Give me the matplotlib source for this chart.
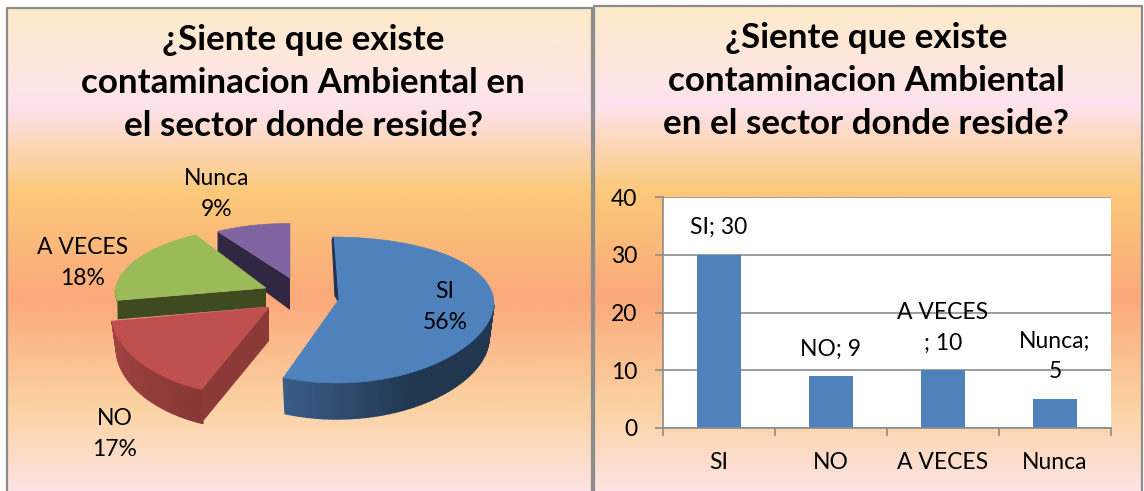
import numpy
import matplotlib
matplotlib.use("Agg")
from matplotlib import pyplot
from matplotlib.colors import LinearSegmentedColormap, to_rgb
from matplotlib.patches import Polygon

categories = ["SI", "NO", "A VECES", "Nunca"]
counts = [30, 9, 10, 5]
percent_labels = ["56%", "17%", "18%", "9%"]
bar_labels = ["SI; 30", "NO; 9", "A VECES\n; 10", "Nunca;\n5"]
y_ticks = [0, 10, 20, 30, 40]
title_left = "¿Siente que existe\ncontaminacion Ambiental en\nel sector donde reside?"
title_right = "¿Siente que existe\ncontaminacion Ambiental\nen el sector donde reside?"

W, H = 1144, 491
top_colors = ["#4F81BD", "#C0504D", "#9BBB59", "#8064A2"]
pie_apex = [(337, 302), (269, 307), (266, 288), (290, 278)]
pie_scale = [1.0, 1.0, 0.96, 0.84]
pie_depth = [36, 34, 19, 30]
# perspective fudge for each exploded slice
shear_up = [0.06, 0, -0.235, 0]
shear_down = [0, -0.17, 0, 0]
stretch_down = [1.0, 1.09, 1.0, 1.0]

pyplot.rcParams["font.family"] = ["Lato", "DejaVu Sans"]
fig = pyplot.figure(figsize=(W / 100, H / 100), dpi=100)
canvas = fig.add_axes([0, 0, 1, 1])
canvas.set_xlim(0, W)
canvas.set_ylim(H, 0)
canvas.axis("off")

grad = LinearSegmentedColormap.from_list("panel", [
    (0.0, "#FDEBC9"), (0.2, "#FDE3EE"), (0.38, "#FBC97A"),
    (0.6, "#FBA97A"), (0.83, "#FBD3A4"), (1.0, "#FDE3E3")])
gradient = numpy.linspace(0, 1, 256).reshape(-1, 1)


def panel(x0, x1, y0):
    canvas.imshow(gradient, cmap=grad, extent=(x0, x1, H + 1, y0), aspect="auto", zorder=1)
    canvas.plot([x0, x0, x1, x1], [H + 1, y0, y0, H + 1], color="#8C8C8C", lw=1.6, zorder=2)


panel(7, 592, 8)
panel(594, 1142, 6)
canvas.set_xlim(0, W)
canvas.set_ylim(H, 0)

canvas.text(303, 83, title_left, ha="center", va="center", fontsize=25.2, fontweight="bold",
            linespacing=1.42, zorder=5)
canvas.text(866, 81, title_right, ha="center", va="center", fontsize=25.2, fontweight="bold",
            linespacing=1.42, zorder=5)


def rim(i, deg):
    apex, scale = pie_apex[i], pie_scale[i]
    a = numpy.radians(deg)
    v = -numpy.cos(a)
    dy = scale * (73 * v + 8 * v * v)
    dy = numpy.where(dy > 0, dy * stretch_down[i], dy)
    dx = 157 * scale * numpy.sin(a) + numpy.where(dy > 0, shear_down[i] * dy, shear_up[i] * dy)
    return apex[0] + dx, apex[1] + dy


def shade(c, f):
    return tuple(numpy.array(to_rgb(c)) * f)


ends = numpy.cumsum(counts) / numpy.sum(counts) * 360
starts = ends - numpy.array(counts) / numpy.sum(counts) * 360

# drawn back to front, a flat top with a darker side wall
for i in [3, 2, 1, 0]:
    apex, depth = pie_apex[i], pie_depth[i]
    angles = numpy.linspace(starts[i], ends[i], 120)
    rx, ry = rim(i, angles)
    bx = rx - 5 * numpy.sin(numpy.radians(angles))
    z = 10 + (3 - i)
    # curved outer wall, only the part that faces the viewer
    for j in range(len(angles) - 1):
        if angles[j] < 92 or angles[j] > 268:
            continue
        if i == 0:
            f = 0.42 + 0.3 * numpy.clip((angles[j] - 150) / 50, 0, 1)
        else:
            f = 0.85 - 0.15 * numpy.clip((260 - angles[j]) / 60, 0, 1)
        quad = [(rx[j], ry[j]), (rx[j + 1], ry[j + 1]), (bx[j + 1], ry[j + 1] + depth), (bx[j], ry[j] + depth)]
        c = shade(top_colors[i], f)
        canvas.add_patch(Polygon(quad, facecolor=c, edgecolor=c, lw=1, zorder=z))
    # cut wall
    ex, ey = rim(i, starts[i])
    if i == 0:
        wall = [(ex, ey), (apex[0] + 1, apex[1] - 2), (apex[0] - 2, apex[1] - 6), (ex - 1, ey + 3)]
        canvas.add_patch(Polygon(wall, facecolor="#1F3552", edgecolor="#1F3552", lw=0.8, zorder=z + 1))
    else:
        wall = [apex, (ex, ey), (ex, ey + depth), (apex[0], apex[1] + depth)]
        if i == 3:
            wall[2] = (ex, ey + 25)
            wall[3] = (apex[0], apex[1] + 32)
        canvas.add_patch(Polygon(wall, facecolor=["", "#8C3A38", "#3F4A20", "#312742"][i], zorder=z))
    top = numpy.column_stack([numpy.r_[apex[0], rx], numpy.r_[apex[1], ry]])
    canvas.add_patch(Polygon(top, facecolor=top_colors[i], edgecolor=top_colors[i], lw=0.4, zorder=z + 0.5))

label_pos = [(445, 307), (115, 434), (83, 263), (217, 194)]
for (lx, ly), cat, pct in zip(label_pos, categories, percent_labels):
    canvas.text(lx, ly, cat + "\n" + pct, ha="center", va="center", fontsize=16.5, linespacing=1.57, zorder=20)

ax = fig.add_axes([663 / W, 1 - 428 / H, 448 / W, 231 / H], zorder=3)
ax.bar(range(len(categories)), counts, width=0.4, color="#4F81BD")
ax.set_xlim(-0.5, 3.5)
ax.set_ylim(0, 40)
ax.set_yticks(y_ticks)
ax.set_xticks(numpy.arange(-0.5, 4, 1))
ax.set_xticklabels([])
ax.set_xticks(range(4), categories, minor=True)
ax.tick_params(axis="x", which="minor", length=0, labelsize=16.5, pad=17)
ax.tick_params(axis="x", which="major", length=6, width=1.2, color="#8C8C8C")
ax.tick_params(axis="y", length=6, width=1.2, color="#8C8C8C", labelsize=16.5, pad=12.5)
ax.grid(axis="y", color="#8C8C8C", lw=1.2)
ax.set_axisbelow(True)
for side in ["top", "right"]:
    ax.spines[side].set_visible(False)
for side in ["left", "bottom"]:
    ax.spines[side].set_color("#8C8C8C")
    ax.spines[side].set_linewidth(1.2)
for i, (n, label) in enumerate(zip(counts, bar_labels)):
    ax.annotate(label, (i, n), xytext=(0, 12), textcoords="offset points", ha="center", va="bottom",
                fontsize=16.5, linespacing=1.57, annotation_clip=False)

fig.savefig("out.png", dpi=100)
